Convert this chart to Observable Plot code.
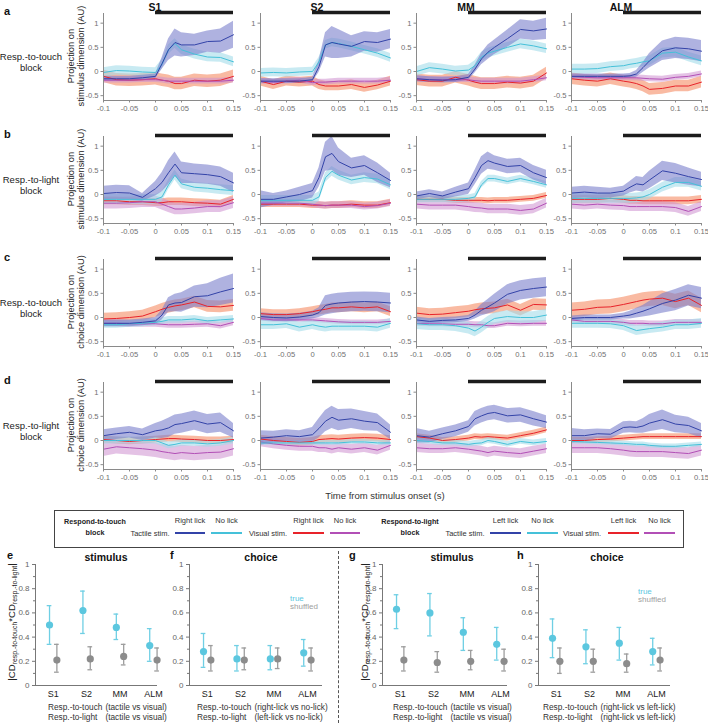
<!DOCTYPE html>
<html><head><meta charset="utf-8">
<script src="https://cdn.jsdelivr.net/npm/d3@7"></script>
<script src="https://cdn.jsdelivr.net/npm/@observablehq/plot@0.6"></script>
<style>
body{margin:0;background:#fff;font-family:"Liberation Sans",Arial,sans-serif;}
#fig{position:relative;width:708px;height:723px;overflow:hidden;}
.abs{position:absolute;white-space:nowrap;}
.plot{position:absolute;}
.bold{font-weight:bold;}
sub{font-size:0.72em;vertical-align:-0.25em;line-height:0;}
</style></head>
<body><div id="fig"></div>
<script>
// ---------- shared axes ----------
const times = [-0.1,-0.075,-0.05,-0.025,0,0.0125,0.025,0.0375,0.05,0.075,0.1,0.125,0.15];
const areas = ["S1","S2","MM","ALM"];
const xTicks = [-0.1,-0.05,0,0.05,0.1,0.15];
const yTicks = [-0.5,0,0.5,1];
const xDomain = [-0.1,0.15];
const yDomain = [-0.6,1.2];
const stimWindow = [0,0.15];
const stimBarY = 1.22;
const rowLabels = [["Resp.-to-touch","block"],["Resp.-to-light","block"],["Resp.-to-touch","block"],["Resp.-to-light","block"]];
const yTitles = [["Projection on","stimulus dimension (AU)"],["Projection on","stimulus dimension (AU)"],["Projection on","choice dimension (AU)"],["Projection on","choice dimension (AU)"]];

// ---------- row a: stimulus dimension, respond-to-touch block ----------
const a_tactileLick = [
 [-0.15,-0.15,-0.15,-0.13,-0.1,0.16,0.45,0.6,0.55,0.55,0.62,0.63,0.76],
 [-0.2,-0.2,-0.2,-0.2,-0.17,0.1,0.55,0.6,0.57,0.52,0.62,0.6,0.67],
 [-0.15,-0.17,-0.18,-0.17,-0.12,0.05,0.26,0.4,0.5,0.68,0.87,0.84,0.88],
 [-0.1,-0.1,-0.1,-0.1,-0.1,-0.09,-0.05,0.08,0.22,0.43,0.49,0.47,0.42]];
const a_tactileLickErr = [
 [0.05,0.05,0.05,0.05,0.05,0.12,0.22,0.28,0.25,0.22,0.22,0.25,0.28],
 [0.05,0.05,0.05,0.05,0.05,0.12,0.25,0.33,0.3,0.22,0.2,0.2,0.2],
 [0.06,0.06,0.06,0.06,0.06,0.08,0.12,0.15,0.15,0.18,0.2,0.2,0.22],
 [0.05,0.05,0.05,0.05,0.05,0.05,0.07,0.1,0.15,0.2,0.22,0.22,0.22]];
const a_tactileNoLick = [
 [-0.02,0.02,0.01,-0.01,-0.02,0.15,0.45,0.58,0.45,0.36,0.3,0.29,0.2],
 [-0.03,-0.02,-0.03,-0.01,0.0,0.2,0.55,0.6,0.58,0.52,0.45,0.38,0.28],
 [0.0,0.08,0.05,0.01,0.03,0.12,0.3,0.38,0.42,0.5,0.57,0.53,0.47],
 [0.05,0.05,0.06,0.1,0.12,0.15,0.17,0.2,0.22,0.38,0.4,0.3,0.22]];
const a_visualLick = [
 [-0.1,-0.17,-0.18,-0.17,-0.15,-0.18,-0.2,-0.25,-0.25,-0.18,-0.2,-0.18,-0.1],
 [-0.2,-0.27,-0.2,-0.22,-0.2,-0.27,-0.3,-0.3,-0.3,-0.27,-0.33,-0.28,-0.2],
 [-0.17,-0.2,-0.2,-0.12,-0.18,-0.22,-0.25,-0.25,-0.25,-0.22,-0.24,-0.2,-0.03],
 [-0.15,-0.18,-0.2,-0.15,-0.2,-0.22,-0.25,-0.3,-0.37,-0.35,-0.3,-0.3,-0.22]];
const a_visualNoLick = [
 [-0.18,-0.18,-0.18,-0.17,-0.17,-0.18,-0.2,-0.2,-0.2,-0.2,-0.2,-0.2,-0.18],
 [-0.2,-0.22,-0.2,-0.18,-0.23,-0.22,-0.22,-0.21,-0.2,-0.2,-0.2,-0.2,-0.18],
 [-0.15,-0.17,-0.17,-0.17,-0.17,-0.19,-0.2,-0.2,-0.2,-0.2,-0.2,-0.17,-0.13],
 [-0.1,-0.12,-0.13,-0.13,-0.13,-0.13,-0.13,-0.14,-0.15,-0.16,-0.12,-0.1,-0.05]];
const a_otherErr = [[0.1,0.13,0.06],[0.09,0.1,0.06],[0.1,0.12,0.06],[0.1,0.12,0.06]];

// ---------- row b: stimulus dimension, respond-to-light block ----------
const b_tactileLick = [
 [0.02,0.04,0.03,-0.06,0.12,0.25,0.45,0.63,0.45,0.43,0.41,0.37,0.24],
 [-0.1,-0.1,-0.05,0.0,0.08,0.35,0.78,0.85,0.68,0.55,0.6,0.45,0.29],
 [-0.03,0.02,-0.03,0.05,0.12,0.35,0.6,0.7,0.65,0.58,0.6,0.45,0.35],
 [0.03,0.05,0.03,0.03,0.07,0.15,0.22,0.2,0.3,0.49,0.44,0.37,0.31]];
const b_tactileLickErr = [
 [0.15,0.15,0.15,0.08,0.15,0.2,0.25,0.25,0.22,0.2,0.2,0.2,0.2],
 [0.18,0.12,0.12,0.15,0.15,0.2,0.3,0.35,0.28,0.2,0.2,0.2,0.15],
 [0.08,0.08,0.08,0.1,0.12,0.15,0.18,0.18,0.15,0.15,0.15,0.15,0.15],
 [0.12,0.12,0.12,0.1,0.1,0.12,0.15,0.15,0.18,0.2,0.2,0.18,0.15]];
const b_tactileNoLick = [
 [-0.1,-0.1,-0.1,-0.1,-0.1,-0.05,0.2,0.4,0.22,0.15,0.13,0.1,0.08],
 [-0.12,-0.12,-0.12,-0.12,-0.12,-0.05,0.35,0.48,0.4,0.3,0.35,0.32,0.2],
 [-0.1,-0.1,-0.1,-0.1,-0.08,-0.05,0.2,0.33,0.33,0.27,0.33,0.27,0.2],
 [-0.08,-0.08,-0.08,-0.08,-0.08,-0.08,-0.07,-0.05,0.0,0.15,0.25,0.25,0.17]];
const b_visualLick = [
 [-0.13,-0.13,-0.15,-0.15,-0.17,-0.17,-0.15,-0.15,-0.15,-0.17,-0.18,-0.2,-0.1],
 [-0.2,-0.2,-0.2,-0.2,-0.22,-0.22,-0.23,-0.22,-0.22,-0.2,-0.22,-0.22,-0.17],
 [-0.1,-0.1,-0.1,-0.12,-0.12,-0.12,-0.12,-0.13,-0.12,-0.12,-0.1,-0.08,-0.02],
 [-0.1,-0.1,-0.1,-0.08,-0.1,-0.12,-0.12,-0.13,-0.13,-0.13,-0.13,-0.13,-0.1]];
const b_visualNoLick = [
 [-0.18,-0.18,-0.17,-0.15,-0.15,-0.2,-0.25,-0.3,-0.3,-0.28,-0.25,-0.25,-0.17],
 [-0.18,-0.18,-0.18,-0.18,-0.2,-0.22,-0.23,-0.22,-0.22,-0.22,-0.25,-0.23,-0.18],
 [-0.2,-0.22,-0.22,-0.22,-0.25,-0.27,-0.28,-0.3,-0.3,-0.3,-0.33,-0.3,-0.18],
 [-0.2,-0.22,-0.2,-0.22,-0.23,-0.25,-0.25,-0.25,-0.25,-0.25,-0.27,-0.35,-0.25]];
const b_otherErr = [[0.1,0.08,0.12],[0.1,0.07,0.07],[0.07,0.06,0.1],[0.1,0.08,0.1]];

// ---------- row c: choice dimension, respond-to-touch block ----------
const c_tactileLick = [
 [-0.12,-0.12,-0.12,-0.1,-0.07,0.05,0.26,0.3,0.31,0.43,0.45,0.53,0.6],
 [0.02,0.0,-0.01,0.01,0.05,0.1,0.25,0.28,0.3,0.32,0.33,0.32,0.3],
 [-0.05,-0.08,-0.06,-0.05,-0.02,0.05,0.15,0.22,0.3,0.48,0.56,0.6,0.63],
 [-0.02,0.0,0.0,0.0,0.03,0.05,0.09,0.13,0.18,0.29,0.36,0.46,0.4]];
const c_tactileLickErr = [
 [0.07,0.07,0.07,0.07,0.07,0.1,0.15,0.18,0.2,0.22,0.25,0.28,0.3],
 [0.08,0.08,0.08,0.08,0.08,0.1,0.2,0.2,0.2,0.2,0.2,0.2,0.2],
 [0.06,0.06,0.06,0.06,0.06,0.08,0.12,0.15,0.18,0.2,0.2,0.2,0.2],
 [0.05,0.05,0.05,0.05,0.06,0.08,0.1,0.12,0.15,0.2,0.22,0.22,0.22]];
const c_tactileNoLick = [
 [-0.15,-0.15,-0.13,-0.12,-0.1,-0.08,-0.05,-0.05,-0.05,-0.03,-0.07,-0.05,-0.03],
 [-0.15,-0.15,-0.13,-0.2,-0.15,-0.18,-0.2,-0.18,-0.18,-0.18,-0.18,-0.2,-0.12],
 [-0.13,-0.15,-0.15,-0.17,-0.22,-0.28,-0.2,-0.1,-0.02,0.02,0.0,0.0,0.05],
 [-0.12,-0.12,-0.12,-0.13,-0.17,-0.22,-0.27,-0.25,-0.23,-0.2,-0.15,-0.15,-0.12]];
const c_visualLick = [
 [-0.03,-0.02,0.0,0.03,0.12,0.17,0.21,0.24,0.26,0.32,0.23,0.22,0.25],
 [0.08,0.06,0.06,0.08,0.12,0.15,0.17,0.2,0.2,0.22,0.2,0.22,0.12],
 [0.09,0.06,0.07,0.1,0.13,0.16,0.18,0.19,0.2,0.26,0.15,0.27,0.26],
 [0.15,0.17,0.21,0.22,0.27,0.3,0.33,0.36,0.38,0.4,0.33,0.4,0.25]];
const c_visualNoLick = [
 [-0.12,-0.12,-0.13,-0.13,-0.13,-0.14,-0.15,-0.15,-0.15,-0.14,-0.13,-0.17,-0.1],
 [-0.02,-0.05,-0.05,-0.05,-0.05,-0.06,-0.07,-0.08,-0.09,-0.1,-0.1,-0.1,-0.08],
 [-0.12,-0.13,-0.13,-0.14,-0.14,-0.15,-0.15,-0.17,-0.17,-0.12,-0.13,-0.12,-0.12],
 [-0.05,-0.08,-0.08,-0.08,-0.1,-0.12,-0.12,-0.12,-0.13,-0.13,-0.1,-0.1,-0.1]];
const c_otherErr = [[0.07,0.12,0.07],[0.1,0.1,0.05],[0.12,0.12,0.06],[0.1,0.15,0.06]];

// ---------- row d: choice dimension, respond-to-light block ----------
const d_tactileLick = [
 [0.1,0.14,0.17,0.12,0.2,0.22,0.26,0.33,0.35,0.41,0.34,0.37,0.2],
 [0.05,0.07,0.1,0.08,0.12,0.25,0.4,0.48,0.42,0.45,0.4,0.37,0.17],
 [0.1,0.07,0.14,0.2,0.29,0.45,0.51,0.56,0.58,0.51,0.53,0.45,0.38],
 [0.1,0.1,0.14,0.13,0.27,0.28,0.27,0.3,0.36,0.43,0.34,0.31,0.2]];
const d_tactileLickErr = [
 [0.12,0.12,0.12,0.12,0.15,0.18,0.2,0.2,0.2,0.2,0.2,0.2,0.15],
 [0.15,0.12,0.12,0.12,0.15,0.2,0.22,0.23,0.22,0.2,0.2,0.18,0.15],
 [0.15,0.12,0.12,0.12,0.12,0.15,0.15,0.15,0.15,0.15,0.15,0.15,0.13],
 [0.15,0.12,0.1,0.1,0.12,0.12,0.12,0.15,0.18,0.2,0.18,0.17,0.15]];
const d_tactileNoLick = [
 [0.0,0.0,0.0,0.0,0.0,-0.05,-0.1,-0.08,-0.05,-0.05,-0.07,-0.05,0.0],
 [-0.05,-0.05,-0.05,-0.05,-0.05,-0.05,-0.05,-0.05,-0.05,-0.03,-0.03,-0.05,-0.05],
 [0.0,-0.02,-0.05,-0.05,-0.08,-0.06,-0.05,0.0,-0.02,-0.08,-0.02,-0.05,-0.02],
 [-0.02,-0.03,-0.04,-0.05,-0.06,-0.07,-0.08,-0.08,-0.1,-0.12,-0.12,-0.1,-0.08]];
const d_visualLick = [
 [0.02,0.0,-0.02,0.0,0.02,0.03,0.04,0.04,0.03,0.02,0.0,0.0,0.02],
 [0.03,0.0,-0.02,-0.04,-0.02,0.02,0.03,0.04,0.03,0.05,0.06,0.05,0.02],
 [0.08,0.05,0.0,0.02,0.05,0.08,0.07,0.08,0.07,0.05,0.1,0.15,0.22],
 [0.0,0.0,0.02,0.03,0.05,0.06,0.07,0.08,0.08,0.08,0.08,0.08,0.08]];
const d_visualNoLick = [
 [-0.18,-0.13,-0.15,-0.17,-0.2,-0.23,-0.25,-0.27,-0.25,-0.27,-0.25,-0.24,-0.17],
 [-0.03,-0.07,-0.1,-0.12,-0.12,-0.15,-0.15,-0.18,-0.15,-0.18,-0.15,-0.2,-0.1],
 [-0.15,-0.17,-0.17,-0.15,-0.18,-0.2,-0.22,-0.25,-0.22,-0.25,-0.27,-0.22,-0.17],
 [-0.15,-0.15,-0.15,-0.17,-0.2,-0.22,-0.23,-0.23,-0.23,-0.23,-0.25,-0.27,-0.2]];
const d_otherErr = [[0.07,0.07,0.15],[0.05,0.08,0.1],[0.06,0.06,0.1],[0.05,0.06,0.12]];

// ---------- panels e-h: |CD·CD| overlap ----------
const e_true = [0.50,0.62,0.48,0.33], e_trueCI = [[0.34,0.66],[0.43,0.78],[0.38,0.59],[0.20,0.47]];
const e_shuf = [0.21,0.22,0.24,0.21], e_shufCI = [[0.11,0.34],[0.13,0.32],[0.17,0.34],[0.12,0.31]];
const f_true = [0.28,0.22,0.22,0.27], f_trueCI = [[0.15,0.43],[0.12,0.33],[0.13,0.33],[0.16,0.38]];
const f_shuf = [0.21,0.21,0.22,0.21], f_shufCI = [[0.12,0.33],[0.13,0.31],[0.14,0.31],[0.12,0.31]];
const g_true = [0.63,0.60,0.44,0.34], g_trueCI = [[0.47,0.75],[0.41,0.76],[0.29,0.56],[0.21,0.48]];
const g_shuf = [0.21,0.19,0.20,0.20], g_shufCI = [[0.12,0.32],[0.11,0.28],[0.13,0.29],[0.12,0.30]];
const h_true = [0.39,0.32,0.35,0.28], h_trueCI = [[0.23,0.55],[0.18,0.46],[0.21,0.48],[0.17,0.39]];
const h_shuf = [0.20,0.20,0.18,0.21], h_shufCI = [[0.10,0.31],[0.11,0.30],[0.11,0.26],[0.12,0.31]];
const ovTicks = [0,0.2,0.4,0.6,0.8,1];
const ovMinor = [0.1,0.3,0.5,0.7,0.9];

// ---------- styling ----------
const lineColor = ["#3343a8","#45c1d9","#e8232a","#b24fb6"];
const bandFill  = ["#7a7fcc","#a3dcea","#f58c64","#cd8fd0"];
const bandOp    = [0.6,0.6,0.6,0.55];
const colLeft = [103,260,416,571];
const rowStep = 123;
const FONT = '"Liberation Sans", Arial, sans-serif';

const fig = document.getElementById("fig");
function addText(html, x, y, opts={}) {
  const d = document.createElement("div");
  d.className = "abs" + (opts.bold ? " bold" : "");
  d.innerHTML = html;
  d.style.left = x + "px"; d.style.top = y + "px";
  d.style.fontSize = (opts.size || 9.5) + "px";
  d.style.color = opts.color || "#222";
  d.style.lineHeight = (opts.lh || 1.15);
  if (opts.align) d.style.textAlign = opts.align;
  d.style.transform = opts.transform || "translate(-50%,-50%)";
  fig.appendChild(d);
  return d;
}
function place(svg, left, top) {
  svg.classList.add("plot");
  svg.style.left = left + "px"; svg.style.top = top + "px";
  fig.appendChild(svg);
}

const rows = [
  [a_tactileLick,a_tactileLickErr,a_tactileNoLick,a_visualLick,a_visualNoLick,a_otherErr],
  [b_tactileLick,b_tactileLickErr,b_tactileNoLick,b_visualLick,b_visualNoLick,b_otherErr],
  [c_tactileLick,c_tactileLickErr,c_tactileNoLick,c_visualLick,c_visualNoLick,c_otherErr],
  [d_tactileLick,d_tactileLickErr,d_tactileNoLick,d_visualLick,d_visualNoLick,d_otherErr]];

rows.forEach((R, r) => {
  const [tl, tlErr, tn, vl, vn, oErr] = R;
  areas.forEach((area, c) => {
    const series = [
      {m: tl[c], e: tlErr[c]},
      {m: tn[c], e: times.map(() => oErr[c][0])},
      {m: vl[c], e: times.map(() => oErr[c][1])},
      {m: vn[c], e: times.map(() => oErr[c][2])}];
    const data = [];
    series.forEach((s, k) => times.forEach((t, i) =>
      data.push({k, t, m: s.m[i], lo: s.m[i] - s.e[i], hi: s.m[i] + s.e[i]})));
    const order = [2,3,1,0];
    const marks = [];
    order.forEach(k => marks.push(Plot.areaY(data.filter(d => d.k === k),
      {x: "t", y1: "lo", y2: "hi", fill: bandFill[k], fillOpacity: bandOp[k]})));
    order.forEach(k => marks.push(Plot.lineY(data.filter(d => d.k === k),
      {x: "t", y: "m", stroke: lineColor[k], strokeWidth: 1})));
    marks.push(Plot.ruleX([xDomain[0]], {y1: yDomain[0], y2: yDomain[1], stroke: "#8a8a8a"}));
    marks.push(Plot.ruleY([yDomain[0]], {x1: xDomain[0], x2: xDomain[1], stroke: "#8a8a8a"}));
    marks.push(Plot.ruleY([stimBarY], {x1: stimWindow[0], x2: stimWindow[1], stroke: "#1c1c1c", strokeWidth: 3.5}));
    marks.push(Plot.axisX({ticks: xTicks, tickFormat: d => String(d), tickSize: 2.5, tickPadding: 2.5, label: null, stroke: "#8a8a8a", fill: "#6f6f6f"}));
    marks.push(Plot.axisY({ticks: yTicks, tickFormat: d => String(d), tickSize: 2.5, tickPadding: 2.5, label: null, stroke: "#8a8a8a", fill: "#6f6f6f"}));
    const svg = Plot.plot({
      width: 168, height: 121, marginLeft: 28, marginRight: 10, marginTop: 12, marginBottom: 22,
      x: {domain: xDomain}, y: {domain: yDomain},
      style: {fontFamily: FONT, fontSize: "7.6px", color: "#6f6f6f", background: "transparent", overflow: "visible"},
      marks
    });
    place(svg, colLeft[c] - 28, 1 + rowStep * r);
  });
  // row annotations
  addText(String.fromCharCode(97 + r), 4, 5 + rowStep * r, {bold: true, size: 11, transform: "none", color: "#111"});
  addText(rowLabels[r].join("<br>"), 31, 62 + rowStep * r, {size: 9.5, align: "center", lh: 1.2});
  addText(yTitles[r].join("<br>"), 76, 56 + rowStep * r, {size: 9.3, align: "center", lh: 1.1,
    transform: "translate(-50%,-50%) rotate(-90deg)"});
});
// column titles
[155,317,466,621].forEach((x, c) => addText(areas[c], x, 6.5, {bold: true, size: 10.5, color: "#111"}));
addText("Time from stimulus onset (s)", 385, 496, {size: 9.5, color: "#333"});

// ---------- legend box ----------
const box = document.createElement("div");
box.className = "abs";
Object.assign(box.style, {left: "54px", top: "510px", width: "628px", height: "36px", border: "1px solid #444"});
fig.appendChild(box);
const legRow1 = 521, legRow2 = 533;
addText("Respond-to-touch<br>block", 95, 527, {bold: true, size: 7.2, align: "center", lh: 1.55});
addText("Respond-to-light<br>block", 410, 527, {bold: true, size: 7.2, align: "center", lh: 1.55});
const legItems = [
  {stim: "Tactile stim.", sx: 150, items: [["Right lick", 175, 205, 0], ["No lick", 211, 242, 1]]},
  {stim: "Visual stim.", sx: 268, items: [["Right lick", 293, 324, 2], ["No lick", 330, 360, 3]]},
  {stim: "Tactile stim.", sx: 465, items: [["Left lick", 490, 521, 0], ["No lick", 527, 558, 1]]},
  {stim: "Visual stim.", sx: 582, items: [["Left lick", 608, 639, 2], ["No lick", 644, 675, 3]]}];
legItems.forEach(g => {
  addText(g.stim, g.sx, legRow2 + 1, {size: 7.5, color: "#333"});
  g.items.forEach(([lab, x1, x2, k]) => {
    addText(lab, (x1 + x2) / 2, legRow1, {size: 7.5, color: "#333"});
    const ln = document.createElement("div");
    ln.className = "abs";
    Object.assign(ln.style, {left: x1 + "px", top: (legRow2 - 1) + "px", width: (x2 - x1) + "px", height: "2.2px", background: lineColor[k]});
    fig.appendChild(ln);
  });
});

// ---------- overlap panels ----------
const trueCol = "#5cc7df", shufCol = "#8c8c8c";
function overlapPanel(tr, trCI, sh, shCI, left, plotW) {
  const spacing = 33.4, x0 = 0.47;
  const xd = [x0, x0 + plotW / spacing];
  const T = tr.map((v, i) => ({x: i + 1 - 0.11, v, lo: trCI[i][0], hi: trCI[i][1]}));
  const S = sh.map((v, i) => ({x: i + 1 + 0.11, v, lo: shCI[i][0], hi: shCI[i][1]}));
  const cap = 0.07;
  const marks = [];
  [[T, "#6fcfe4"], [S, "#9d9d9d"]].forEach(([D, col]) => {
    marks.push(Plot.ruleX(D, {x: "x", y1: "lo", y2: "hi", stroke: col, strokeWidth: 1.3}));
    marks.push(Plot.ruleY(D, {y: "lo", x1: d => d.x - cap, x2: d => d.x + cap, stroke: col, strokeWidth: 1.3}));
    marks.push(Plot.ruleY(D, {y: "hi", x1: d => d.x - cap, x2: d => d.x + cap, stroke: col, strokeWidth: 1.3}));
  });
  marks.push(Plot.dot(T, {x: "x", y: "v", r: 3.6, fill: trueCol}));
  marks.push(Plot.dot(S, {x: "x", y: "v", r: 3.6, fill: shufCol}));
  marks.push(Plot.ruleX([xd[0]], {y1: 0, y2: 1, stroke: "#777"}));
  marks.push(Plot.ruleY([0], {x1: xd[0], x2: xd[1], stroke: "#777"}));
  marks.push(Plot.axisY({ticks: ovTicks, tickFormat: d => String(d), tickSize: 3, tickPadding: 3, label: null, stroke: "#777", fill: "#666"}));
  marks.push(Plot.axisY({ticks: ovMinor, tickFormat: () => "", tickSize: 2, label: null, stroke: "#777"}));
  marks.push(Plot.axisX({ticks: [1,2,3,4], tickFormat: i => areas[i - 1], tickSize: 0, tickPadding: 5, label: null, fill: "#222", fontSize: 9}));
  const svg = Plot.plot({
    width: 32 + plotW + 4, height: 153, marginLeft: 32, marginRight: 4, marginTop: 10, marginBottom: 22,
    x: {domain: xd}, y: {domain: [0, 1]},
    style: {fontFamily: FONT, fontSize: "8px", color: "#666", background: "transparent", overflow: "visible"},
    marks
  });
  place(svg, left - 32, 554);
}
overlapPanel(e_true, e_trueCI, e_shuf, e_shufCI, 35, 122);
overlapPanel(f_true, f_trueCI, f_shuf, f_shufCI, 189, 133);
overlapPanel(g_true, g_trueCI, g_shuf, g_shufCI, 382, 125);
overlapPanel(h_true, h_trueCI, h_shuf, h_shufCI, 538, 132);

// titles & letters
addText("e", 7, 549, {bold: true, size: 11, transform: "none", color: "#111"});
addText("f", 170, 549, {bold: true, size: 11, transform: "none", color: "#111"});
addText("g", 349, 549, {bold: true, size: 11, transform: "none", color: "#111"});
addText("h", 517, 549, {bold: true, size: 11, transform: "none", color: "#111"});
addText("stimulus", 106, 557, {bold: true, size: 10.5, color: "#111"});
addText("choice", 261, 557, {bold: true, size: 10.5, color: "#111"});
addText("stimulus", 452, 557, {bold: true, size: 10.5, color: "#111"});
addText("choice", 607, 557, {bold: true, size: 10.5, color: "#111"});
const cdLabel = "|CD<sub>resp.-to-touch</sub>*CD<sub>resp.-to-light</sub>|";
addText(cdLabel, 12, 622, {size: 9.6, color: "#222", transform: "translate(-50%,-50%) rotate(-90deg)"});
addText(cdLabel, 365, 622, {size: 9.6, color: "#222", transform: "translate(-50%,-50%) rotate(-90deg)"});
// true / shuffled keys
addText("true", 290, 595, {size: 8, color: trueCol, transform: "none", lh: 1});
addText("shuffled", 290, 603, {size: 8, color: "#a0a0a0", transform: "none", lh: 1});
addText("true", 638, 588, {size: 8, color: trueCol, transform: "none", lh: 1});
addText("shuffled", 638, 596, {size: 8, color: "#a0a0a0", transform: "none", lh: 1});
// captions
function caption(left, a, b) {
  const d = document.createElement("div");
  d.className = "abs";
  Object.assign(d.style, {left: left + "px", top: "702px", fontSize: "8.3px", color: "#333", lineHeight: "10px",
    display: "grid", gridTemplateColumns: "auto auto", columnGap: "3px"});
  d.innerHTML = `<span>Resp.-to-touch</span><span>${a}</span><span>Resp.-to-light</span><span>${b}</span>`;
  fig.appendChild(d);
}
caption(48, "(tactile vs visual)", "(tactile vs visual)");
caption(197, "(right-lick vs no-lick)", "(left-lick vs no-lick)");
caption(393, "(tactile vs visual)", "(tactile vs visual)");
caption(543, "(right-lick vs left-lick)", "(right-lick vs left-lick)");
// dashed separator
const sep = document.createElement("div");
sep.className = "abs";
Object.assign(sep.style, {left: "338px", top: "551px", height: "172px", width: "0", borderLeft: "1px dashed #555"});
fig.appendChild(sep);
</script>
</body></html>
